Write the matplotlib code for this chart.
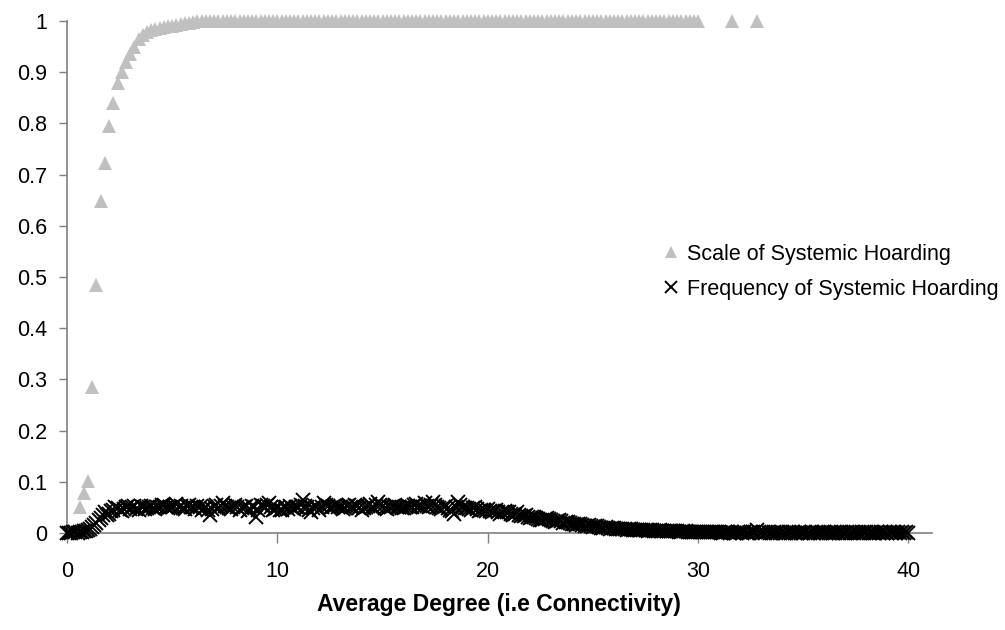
import matplotlib
matplotlib.use('Agg')
import matplotlib.pyplot as plt
import numpy as np

plt.rcParams.update({
    'font.family': ['Liberation Sans', 'DejaVu Sans'],
    'font.size': 15.5,
})

# x grid for the frequency series: average degree every 0.1 from 0 to 40
degree = np.round(np.arange(0, 40.01, 0.1), 1)

# Frequency of systemic hoarding, one row per unit of degree (x.0 .. x.9)
frequency = [
    0, 0, 0, 0.001, 0.002, 0, 0.001, 0.002, 0.003, 0.004,
    0.005, 0.008, 0.012, 0.016, 0.02, 0.025, 0.03, 0.035, 0.04, 0.036,
    0.038, 0.043, 0.045, 0.05, 0.048, 0.044, 0.042, 0.047, 0.05, 0.052,
    0.047, 0.05, 0.052, 0.046, 0.045, 0.053, 0.05, 0.047, 0.048, 0.051,
    0.052, 0.049, 0.046, 0.05, 0.05, 0.054, 0.055, 0.051, 0.048, 0.05,
    0.05, 0.053, 0.056, 0.051, 0.052, 0.049, 0.047, 0.052, 0.055, 0.05,
    0.05, 0.047, 0.053, 0.05, 0.045, 0.048, 0.05, 0.044, 0.035, 0.046,
    0.052, 0.055, 0.048, 0.052, 0.058, 0.053, 0.05, 0.048, 0.047, 0.051,
    0.055, 0.05, 0.045, 0.049, 0.05, 0.053, 0.042, 0.047, 0.052, 0.05,
    0.032, 0.045, 0.055, 0.052, 0.05, 0.054, 0.058, 0.05, 0.045, 0.047,
    0.048, 0.044, 0.045, 0.05, 0.05, 0.047, 0.052, 0.049, 0.046, 0.05,
    0.05, 0.055, 0.065, 0.052, 0.05, 0.045, 0.04, 0.048, 0.052, 0.05,
    0.045, 0.05, 0.058, 0.055, 0.052, 0.049, 0.05, 0.053, 0.055, 0.051,
    0.05, 0.047, 0.048, 0.052, 0.055, 0.05, 0.05, 0.054, 0.052, 0.049,
    0.045, 0.048, 0.05, 0.053, 0.056, 0.051, 0.048, 0.055, 0.06, 0.054,
    0.052, 0.049, 0.047, 0.05, 0.05, 0.053, 0.055, 0.051, 0.05, 0.048,
    0.048, 0.051, 0.053, 0.05, 0.05, 0.054, 0.056, 0.053, 0.052, 0.05,
    0.058, 0.053, 0.05, 0.055, 0.06, 0.054, 0.05, 0.049, 0.047, 0.05,
    0.052, 0.048, 0.045, 0.042, 0.038, 0.05, 0.06, 0.055, 0.05, 0.049,
    0.048, 0.046, 0.045, 0.048, 0.05, 0.046, 0.042, 0.044, 0.045, 0.043,
    0.046, 0.043, 0.04, 0.042, 0.045, 0.041, 0.038, 0.04, 0.042, 0.041,
    0.04, 0.038, 0.036, 0.038, 0.04, 0.036, 0.033, 0.034, 0.035, 0.032,
    0.03, 0.031, 0.032, 0.03, 0.028, 0.026, 0.025, 0.027, 0.03, 0.027,
    0.025, 0.023, 0.022, 0.024, 0.026, 0.023, 0.02, 0.021, 0.022, 0.02,
    0.018, 0.017, 0.016, 0.017, 0.018, 0.015, 0.013, 0.014, 0.015, 0.013,
    0.012, 0.013, 0.013, 0.011, 0.009, 0.01, 0.011, 0.009, 0.008, 0.009,
    0.009, 0.008, 0.007, 0.008, 0.008, 0.007, 0.006, 0.007, 0.007, 0.006,
    0.006, 0.005, 0.005, 0.006, 0.006, 0.005, 0.004, 0.005, 0.005, 0.004,
    0.004, 0.004, 0.005, 0.004, 0.003, 0.004, 0.004, 0.003, 0.003, 0.003,
    0.003, 0.002, 0.002, 0.003, 0.003, 0.002, 0.002, 0.002, 0.002, 0.002,
    0.002, 0.001, 0.001, 0.002, 0.002, 0.001, 0.001, 0.001, 0.001, 0.001,
    0.001, 0, 0, 0.001, 0.001, 0, 0.001, 0, 0, 0.001,
    0.001, 0, 0.001, 0, 0, 0.001, 0.001, 0.002, 0.006, 0.002,
    0, 0.001, 0, 0.001, 0, 0, 0.001, 0, 0.001, 0,
    0.001, 0, 0, 0.001, 0, 0.001, 0, 0, 0.001, 0,
    0, 0.001, 0, 0, 0.001, 0, 0.001, 0, 0, 0.001,
    0.001, 0, 0, 0.001, 0, 0, 0.001, 0, 0.001, 0,
    0, 0.001, 0, 0.001, 0, 0.001, 0, 0, 0.001, 0,
    0.001, 0, 0.001, 0, 0, 0.001, 0, 0.001, 0, 0.001,
    0, 0.001, 0, 0.001, 0, 0.001, 0, 0.001, 0, 0.001,
    0,
]

# Scale of systemic hoarding: every 0.2 from 0.6 up to 30, plus two stragglers
scale_x = list(np.round(np.arange(0.6, 30.01, 0.2), 1)) + [31.6, 32.8]
scale_rise = [
    0.051, 0.079, 0.102, 0.286, 0.484, 0.649, 0.722,
    0.794, 0.839, 0.878, 0.90, 0.92,
    0.935, 0.95, 0.965, 0.972, 0.978,
    0.982, 0.985, 0.987, 0.989, 0.99,
    0.991, 0.993, 0.994, 0.996, 0.997,
    0.998, 0.999,
]
scale = scale_rise + [1.0] * (len(scale_x) - len(scale_rise))

fig = plt.figure(figsize=(10.05, 6.3), dpi=100)
ax = fig.add_axes([0.0667, 0.154, 0.8603, 0.8127])

ax.plot(scale_x, scale, linestyle='none', marker='^', markersize=9.5,
        color='#C0C0C0', markeredgewidth=0, clip_on=False, zorder=2,
        label='Scale of Systemic Hoarding')
ax.plot(degree, frequency, linestyle='none', marker='x', markersize=9.5,
        color='black', markeredgewidth=1.4, clip_on=False, zorder=3,
        label='Frequency of Systemic Hoarding')

ax.set_xlim(0, 41.1)
ax.set_ylim(0, 1)
ax.set_xticks([0, 10, 20, 30, 40])
ax.set_yticks(np.round(np.arange(0, 1.01, 0.1), 1))
ax.set_yticklabels(['0', '0.1', '0.2', '0.3', '0.4', '0.5', '0.6', '0.7', '0.8', '0.9', '1'])

for s in ['top', 'right']:
    ax.spines[s].set_visible(False)
for s in ['left', 'bottom']:
    ax.spines[s].set_color('#808080')
    ax.spines[s].set_linewidth(1.2)
ax.tick_params(axis='both', colors='#808080', labelcolor='black', width=1.0)
ax.tick_params(axis='y', length=6, pad=8)
ax.tick_params(axis='x', length=7, pad=13)

ax.set_xlabel('Average Degree (i.e Connectivity)', fontweight='bold',
              fontsize=16.5, labelpad=8)

leg = ax.legend(loc='upper left', bbox_to_anchor=(0.651, 0.63), bbox_transform=fig.transFigure,
                frameon=False, handlelength=0.6, handletextpad=0.4, borderpad=0,
                labelspacing=0.65, markerscale=0.85)

plt.savefig('out.png', dpi=100)
